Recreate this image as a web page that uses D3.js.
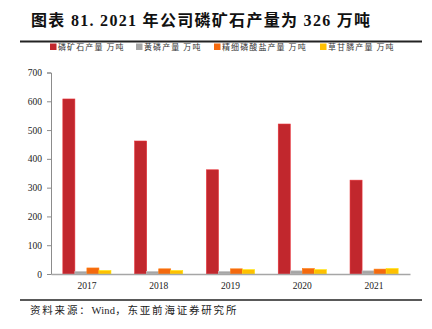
<!DOCTYPE html>
<html>
<head>
<meta charset="utf-8">
<script src="https://cdn.jsdelivr.net/npm/d3@7"></script>
<style>
  html, body { margin: 0; padding: 0; background: #fff; }
  svg { display: block; }
</style>
</head>
<body>
<svg id="chart" width="432" height="329"></svg>
<script>
// Annual output, 10k tonnes
const years = ["2017", "2018", "2019", "2020", "2021"];
const seriesNames = ["磷矿石产量 万吨", "黄磷产量 万吨", "精细磷酸盐产量 万吨", "草甘膦产量 万吨"];
const phosphateRock = [608, 462, 362, 521, 326];
const yellowPhosphorus = [9, 9, 9, 11, 11];
const finePhosphates = [21, 18, 18, 19, 17];
const glyphosate = [12, 12, 15, 15, 19];
const seriesColors = ["#C1272D", "#A5A5A5", "#F4690E", "#FFC000"];
const yTicks = [0, 100, 200, 300, 400, 500, 600, 700];

const seriesValues = [phosphateRock, yellowPhosphorus, finePhosphates, glyphosate];

const svg = d3.select("#chart");
const serif = "'Liberation Serif', 'DejaVu Serif', serif";
const cjk = "'Noto Sans CJK SC', sans-serif";

// Title and rule beneath it
svg.append("text")
  .attr("x", 31).attr("y", 26)
  .attr("font-family", serif + ", " + cjk)
  .attr("font-weight", "bold").attr("font-size", 16)
  .attr("letter-spacing", 1.3)
  .attr("fill", "#111")
  .text("图表 81. 2021 年公司磷矿石产量为 326 万吨");
svg.append("line").attr("x1", 20).attr("x2", 422).attr("y1", 41.5).attr("y2", 41.5)
  .attr("stroke", "#222").attr("stroke-width", 2);

const x0 = d3.scaleBand().domain(years).range([51, 410]).paddingInner(0.33).paddingOuter(0.165);
const x1 = d3.scaleBand().domain(d3.range(seriesNames.length)).range([0, x0.bandwidth()]);
const y = d3.scaleLinear().domain([0, 700]).range([274, 72.5]);

// Y axis
const yAxis = svg.append("g").attr("transform", "translate(51,0)")
  .call(d3.axisLeft(y).tickValues(yTicks).tickSize(4).tickPadding(5));
yAxis.selectAll("path, line").attr("stroke", "#8c8c8c");
yAxis.selectAll("text").attr("font-family", serif).attr("font-size", 9.5).attr("fill", "#222");

// Bars
const groups = svg.append("g").selectAll("g")
  .data(years).join("g")
  .attr("transform", d => `translate(${x0(d)},0)`);
groups.selectAll("rect")
  .data((d, i) => seriesValues.map((vals, s) => ({ s, v: vals[i] })))
  .join("rect")
  .attr("x", d => x1(d.s))
  .attr("y", d => y(d.v))
  .attr("width", x1.bandwidth())
  .attr("height", d => y(0) - y(d.v))
  .attr("fill", d => seriesColors[d.s])
  .attr("stroke", d => d3.color(seriesColors[d.s]).brighter(0.5))
  .attr("stroke-width", 0.6);

// X axis
const xAxis = svg.append("g").attr("transform", "translate(0,274)")
  .call(d3.axisBottom(x0).tickSize(0).tickPadding(8).tickSizeOuter(0));
xAxis.select("path").attr("stroke", "#a6a6a6").attr("stroke-width", 1.5);
xAxis.selectAll("text").attr("font-family", serif).attr("font-size", 9.5).attr("fill", "#222");

// Legend
const legendX = [50, 136, 214, 320];
const legend = svg.append("g").selectAll("g")
  .data(seriesNames).join("g")
  .attr("transform", (d, i) => `translate(${legendX[i]},47)`);
legend.append("rect").attr("x", 0).attr("y", -3.5).attr("width", 6.5).attr("height", 6.5)
  .attr("fill", (d, i) => seriesColors[i]);
legend.append("text").attr("x", 8).attr("y", 3)
  .attr("font-family", cjk).attr("font-size", 8).attr("fill", "#333")
  .attr("letter-spacing", 1.1)
  .text(d => d);

// Footer rule and source line (CJK runs spaced, Latin run tight)
svg.append("line").attr("x1", 20).attr("x2", 422).attr("y1", 300).attr("y2", 300)
  .attr("stroke", "#222").attr("stroke-width", 1.5);
const source = svg.append("text")
  .attr("x", 30).attr("y", 314)
  .attr("font-family", serif + ", " + cjk)
  .attr("font-size", 10.5).attr("fill", "#222");
[["资料来源：", 1.8], ["Wind", 0.2], ["，东亚前海证券研究所", 1.8]].forEach(([t, ls]) => {
  source.append("tspan").attr("letter-spacing", ls).text(t);
});
</script>
</body>
</html>
